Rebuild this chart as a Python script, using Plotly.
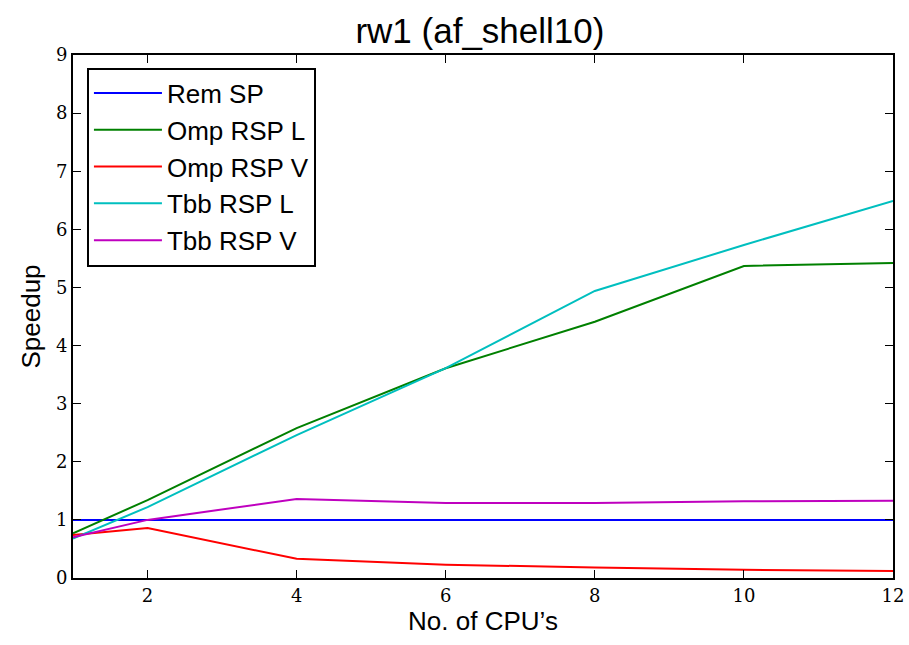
import plotly.graph_objects as go

cpus = [1, 2, 4, 6, 8, 10, 12]
rem_sp = [1, 1, 1, 1, 1, 1, 1]
omp_rsp_l = [0.77, 1.34, 2.58, 3.61, 4.41, 5.37, 5.42]
omp_rsp_v = [0.74, 0.86, 0.33, 0.23, 0.18, 0.14, 0.12]
tbb_rsp_l = [0.68, 1.22, 2.46, 3.61, 4.94, 5.73, 6.49]
tbb_rsp_v = [0.70, 1.00, 1.36, 1.29, 1.29, 1.32, 1.33]

series = [
    ("Rem SP", rem_sp, "#0000ff"),
    ("Omp RSP L", omp_rsp_l, "#008000"),
    ("Omp RSP V", omp_rsp_v, "#ff0000"),
    ("Tbb RSP L", tbb_rsp_l, "#00bfbf"),
    ("Tbb RSP V", tbb_rsp_v, "#bf00bf"),
]

fig = go.Figure()
for name, vals, color in series:
    fig.add_trace(go.Scatter(x=cpus, y=vals, mode="lines", name=name, legendgroup=name,
                             line=dict(color=color, width=2)))

axis_common = dict(showgrid=False, zeroline=False, showline=True, linecolor="black",
                   linewidth=2, mirror="ticks", ticks="inside", ticklen=8, tickwidth=1,
                   tickcolor="black", automargin=False,
                   tickfont=dict(family="DejaVu Serif", size=18, color="black"))

label_font = dict(family="Liberation Sans", size=26, color="black")

fig.update_layout(
    width=909, height=645, autosize=False,
    margin=dict(l=73, r=16, t=55, b=67, autoexpand=False),
    plot_bgcolor="white", paper_bgcolor="white",
    title=dict(text="rw1 (af_shell10)", x=0.528, xanchor="center", y=0.952, yanchor="middle",
               font=dict(family="Liberation Sans", size=35, color="black")),
    xaxis=dict(range=[1, 12], tickvals=[2, 4, 6, 8, 10, 12],
               title=dict(text="No. of CPU’s", font=label_font, standoff=4),
               **axis_common),
    yaxis=dict(range=[0, 9], tickvals=list(range(0, 10)),
               title=dict(text="Speedup", font=label_font, standoff=8),
               **axis_common),
    legend=dict(x=0.017, y=0.976, xanchor="left", yanchor="top",
                bordercolor="black", borderwidth=2, bgcolor="white",
                font=dict(family="Liberation Sans", size=26, color="black"),
                itemwidth=68, tracegroupgap=0),
    showlegend=True,
)

fig.write_html("out.html", config={"displayModeBar": False},
               post_script="document.body.style.margin='0';")
